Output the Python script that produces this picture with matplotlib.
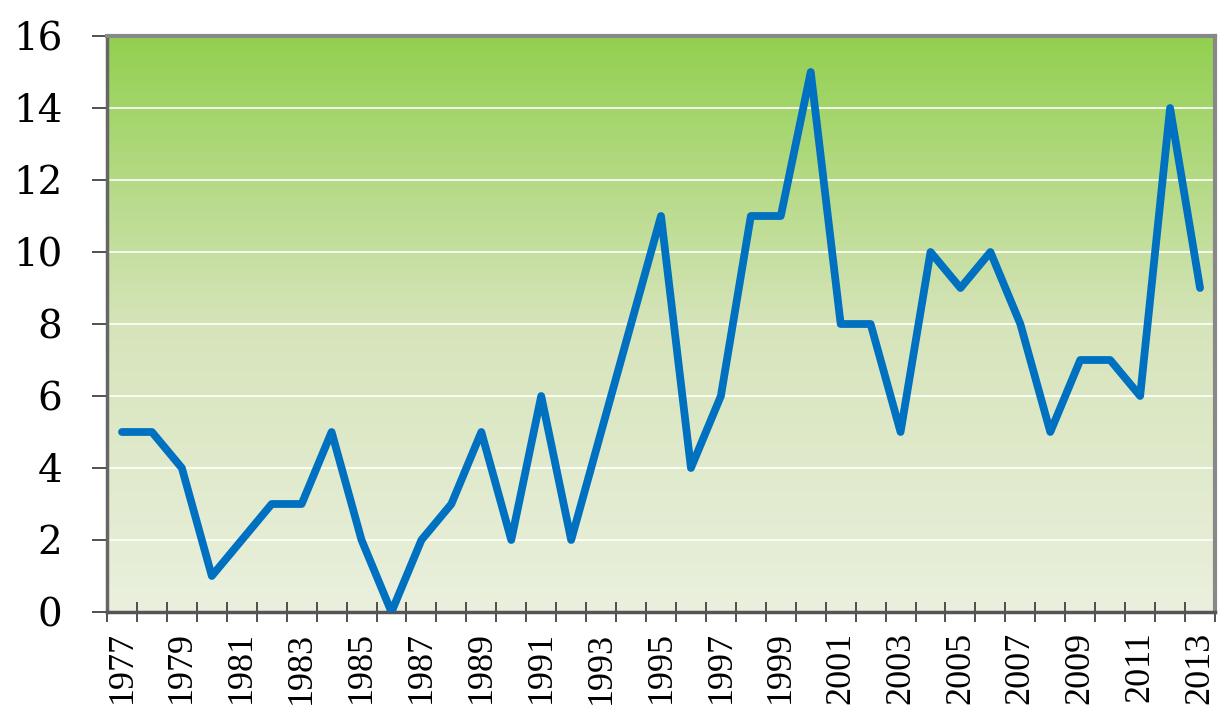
import numpy as np
import matplotlib.pyplot as plt
from matplotlib.colors import LinearSegmentedColormap

# yearly values
years = list(range(1977, 2014))
values = [5, 5, 4, 1, 2, 3, 3, 5, 2, 0, 2, 3, 5, 2, 6, 2, 5, 8, 11, 4,
          6, 11, 11, 15, 8, 8, 5, 10, 9, 10, 8, 5, 7, 7, 6, 14, 9]
y_ticks = list(range(0, 17, 2))

fig = plt.figure(figsize=(12.19, 7.07), dpi=100)
ax = fig.add_axes([107 / 1219, 95 / 707, 1108 / 1219, 576 / 707])

# gradient background, green at top to pale at bottom
cmap = LinearSegmentedColormap.from_list(
    "bg", [(0.0, "#EAF0DD"), (0.5, "#D6E4BA"), (1.0, "#92D050")])
grad = np.linspace(0, 1, 256).reshape(-1, 1)
n = len(years)
ax.imshow(grad, cmap=cmap, aspect="auto", origin="lower",
          extent=[-0.5, n - 0.5, 0, 16], zorder=0)

for yv in y_ticks[1:-1]:
    ax.axhline(yv, color="white", lw=1.2, zorder=1)

x = np.arange(n)
ax.plot(x, values, color="#0070C0", lw=5.6, solid_joinstyle="round",
        solid_capstyle="round", zorder=3)

ax.set_xlim(-0.5, n - 0.5)
ax.set_ylim(0, 16)

ax.set_yticks(y_ticks)
ax.set_yticklabels([str(v) for v in y_ticks], fontsize=28,
                   family="DejaVu Serif")
ax.tick_params(axis="y", direction="out", length=11, width=1.2,
               color="#333333", pad=21)

# ticks on category boundaries, labels every other year at centres
ax.set_xticks(np.arange(-0.5, n, 1.0))
ax.set_xticklabels([])
ax.set_xticks(x[::2], minor=True)
ax.set_xticklabels([str(y) for y in years[::2]], minor=True, rotation=90,
                   fontsize=26, family="Liberation Serif")
ax.tick_params(axis="x", which="major", direction="inout", length=15,
               width=1.2, color="#333333")
ax.tick_params(axis="x", which="minor", length=0, pad=14)

for side in ["top", "right"]:
    ax.spines[side].set_color("#888888")
    ax.spines[side].set_linewidth(3)
ax.spines["left"].set_color("#666666")
ax.spines["left"].set_linewidth(2.5)
ax.spines["bottom"].set_color("#555555")
ax.spines["bottom"].set_linewidth(2.5)

fig.savefig("out.png", dpi=100)
